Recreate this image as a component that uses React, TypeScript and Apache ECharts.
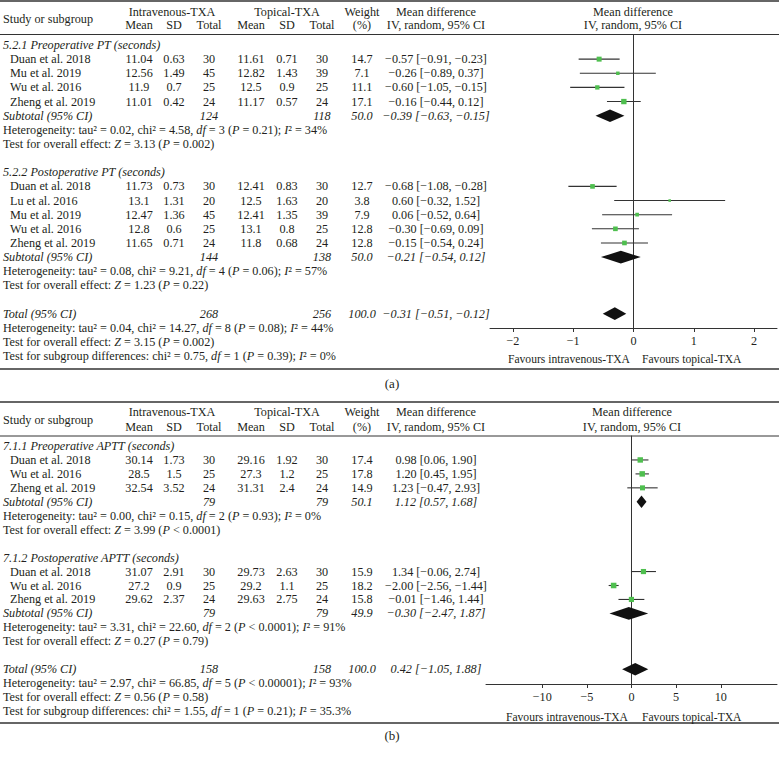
import React, { useEffect, useRef } from "react";
import * as echarts from "echarts";

type Study = [string, number, number, number, number, number, number, number, number, number, number];
type Sub = [number, number, number, number, number, number];

// ---------- Panel (a): PT ----------
const PT_PRE_TITLE = "5.2.1 Preoperative PT (seconds)";
const PT_PRE: Study[] = [
  ["Duan et al. 2018", 11.04, 0.63, 30, 11.61, 0.71, 30, 14.7, -0.57, -0.91, -0.23],
  ["Mu et al. 2019", 12.56, 1.49, 45, 12.82, 1.43, 39, 7.1, -0.26, -0.89, 0.37],
  ["Wu et al. 2016", 11.9, 0.7, 25, 12.5, 0.9, 25, 11.1, -0.6, -1.05, -0.15],
  ["Zheng et al. 2019", 11.01, 0.42, 24, 11.17, 0.57, 24, 17.1, -0.16, -0.44, 0.12],
];
const PT_PRE_SUB: Sub = [124, 118, 50.0, -0.39, -0.63, -0.15];
const PT_PRE_STATS = [
  "Heterogeneity: tau² = 0.02, chi² = 4.58, {i|df} = 3 ({i|P} = 0.21); {i|I}² = 34%",
  "Test for overall effect: {i|Z} = 3.13 ({i|P} = 0.002)",
];

const PT_POST_TITLE = "5.2.2 Postoperative PT (seconds)";
const PT_POST: Study[] = [
  ["Duan et al. 2018", 11.73, 0.73, 30, 12.41, 0.83, 30, 12.7, -0.68, -1.08, -0.28],
  ["Lu et al. 2016", 13.1, 1.31, 20, 12.5, 1.63, 20, 3.8, 0.6, -0.32, 1.52],
  ["Mu et al. 2019", 12.47, 1.36, 45, 12.41, 1.35, 39, 7.9, 0.06, -0.52, 0.64],
  ["Wu et al. 2016", 12.8, 0.6, 25, 13.1, 0.8, 25, 12.8, -0.3, -0.69, 0.09],
  ["Zheng et al. 2019", 11.65, 0.71, 24, 11.8, 0.68, 24, 12.8, -0.15, -0.54, 0.24],
];
const PT_POST_SUB: Sub = [144, 138, 50.0, -0.21, -0.54, 0.12];
const PT_POST_STATS = [
  "Heterogeneity: tau² = 0.08, chi² = 9.21, {i|df} = 4 ({i|P} = 0.06); {i|I}² = 57%",
  "Test for overall effect: {i|Z} = 1.23 ({i|P} = 0.22)",
];
const PT_TOTAL: Sub = [268, 256, 100.0, -0.31, -0.51, -0.12];
const PT_TOTAL_STATS = [
  "Heterogeneity: tau² = 0.04, chi² = 14.27, {i|df} = 8 ({i|P} = 0.08); {i|I}² = 44%",
  "Test for overall effect: {i|Z} = 3.15 ({i|P} = 0.002)",
  "Test for subgroup differences: chi² = 0.75, {i|df} = 1 ({i|P} = 0.39); {i|I}² = 0%",
];
const PT_TICKS = [-2, -1, 0, 1, 2];

// ---------- Panel (b): APTT ----------
const APTT_PRE_TITLE = "7.1.1 Preoperative APTT (seconds)";
const APTT_PRE: Study[] = [
  ["Duan et al. 2018", 30.14, 1.73, 30, 29.16, 1.92, 30, 17.4, 0.98, 0.06, 1.9],
  ["Wu et al. 2016", 28.5, 1.5, 25, 27.3, 1.2, 25, 17.8, 1.2, 0.45, 1.95],
  ["Zheng et al. 2019", 32.54, 3.52, 24, 31.31, 2.4, 24, 14.9, 1.23, -0.47, 2.93],
];
const APTT_PRE_SUB: Sub = [79, 79, 50.1, 1.12, 0.57, 1.68];
const APTT_PRE_STATS = [
  "Heterogeneity: tau² = 0.00, chi² = 0.15, {i|df} = 2 ({i|P} = 0.93); {i|I}² = 0%",
  "Test for overall effect: {i|Z} = 3.99 ({i|P} < 0.0001)",
];
const APTT_POST_TITLE = "7.1.2 Postoperative APTT (seconds)";
const APTT_POST: Study[] = [
  ["Duan et al. 2018", 31.07, 2.91, 30, 29.73, 2.63, 30, 15.9, 1.34, -0.06, 2.74],
  ["Wu et al. 2016", 27.2, 0.9, 25, 29.2, 1.1, 25, 18.2, -2.0, -2.56, -1.44],
  ["Zheng et al. 2019", 29.62, 2.37, 24, 29.63, 2.75, 24, 15.8, -0.01, -1.46, 1.44],
];
const APTT_POST_SUB: Sub = [79, 79, 49.9, -0.3, -2.47, 1.87];
const APTT_POST_STATS = [
  "Heterogeneity: tau² = 3.31, chi² = 22.60, {i|df} = 2 ({i|P} < 0.0001); {i|I}² = 91%",
  "Test for overall effect: {i|Z} = 0.27 ({i|P} = 0.79)",
];
const APTT_TOTAL: Sub = [158, 158, 100.0, 0.42, -1.05, 1.88];
const APTT_TOTAL_STATS = [
  "Heterogeneity: tau² = 2.97, chi² = 66.85, {i|df} = 5 ({i|P} < 0.00001); {i|I}² = 93%",
  "Test for overall effect: {i|Z} = 0.56 ({i|P} = 0.58)",
  "Test for subgroup differences: chi² = 1.55, {i|df} = 1 ({i|P} = 0.21); {i|I}² = 35.3%",
];
const APTT_TICKS = [-10, -5, 0, 5, 10];

// ---------- layout / style ----------
const FONT = '"Liberation Serif", "DejaVu Serif", serif';
const FS = 12.2;
const FS_SMALL = 11.6;
const INK = "#231f20";
const LINE = "#333333";
const GREEN = "#4fbf4f";
const COL = { mean1: 139, sd1: 174, n1: 209, mean2: 251, sd2: 287, n2: 322, w: 362, md: 436 };

const minus = (v: number, d: number) => (v < 0 ? "\u2212" : "") + Math.abs(v).toFixed(d);
const ci = (md: number, lo: number, hi: number) => `${minus(md, 2)} [${minus(lo, 2)}, ${minus(hi, 2)}]`;

function txt(x: number, y: number, text: string, align = "left", italic = false, size = FS): any {
  return {
    type: "text",
    x,
    y,
    silent: true,
    style: {
      text,
      fill: INK,
      fontFamily: FONT,
      fontSize: size,
      fontStyle: italic ? "italic" : "normal",
      textAlign: align,
      textVerticalAlign: "middle",
      verticalAlign: "middle",
      rich: { i: { fontStyle: "italic", fontFamily: FONT, fontSize: size, fill: INK } },
    },
  };
}

function hline(y: number, w: number): any {
  return { type: "line", silent: true, shape: { x1: 0, y1: y, x2: 779, y2: y }, style: { stroke: LINE, lineWidth: w } };
}

interface Group { title: string; studies: Study[]; sub: Sub; stats: string[] }
interface PanelCfg {
  groups: Group[];
  total: Sub;
  totalStats: string[];
  topLine: number;
  head1: number;
  head2: number;
  headLine: number;
  bottomLine: number;
  y0: number;
  step: number;
  plotCenter: number;
  favY: number;
  favRight: number;
  favLeft: number;
  label: string;
  labelY: number;
}

function buildPanel(p: PanelCfg) {
  const g: any[] = [];
  const data: number[][] = [];
  g.push(hline(p.topLine, 1.3), hline(p.headLine, 1), hline(p.bottomLine, 1.3));
  g.push(txt(3, (p.head1 + p.head2) / 2, "Study or subgroup"));
  g.push(txt(172, p.head1, "Intravenous-TXA", "center"));
  g.push(txt(287, p.head1, "Topical-TXA", "center"));
  g.push(txt(COL.w, p.head1, "Weight", "center"));
  g.push(txt(COL.md, p.head1, "Mean difference", "center"));
  g.push(txt(p.plotCenter, p.head1, "Mean difference", "center"));
  [["Mean", COL.mean1], ["SD", COL.sd1], ["Total", COL.n1], ["Mean", COL.mean2], ["SD", COL.sd2], ["Total", COL.n2], ["(%)", COL.w]].forEach(
    ([t, x]) => g.push(txt(x as number, p.head2, t as string, "center"))
  );
  g.push(txt(COL.md, p.head2, "IV, random, 95% CI", "center"));
  g.push(txt(p.plotCenter, p.head2, "IV, random, 95% CI", "center"));

  let r = 0;
  const Y = (row: number) => p.y0 + row * p.step;
  const subRow = (label: string, s: Sub, row: number) => {
    g.push(txt(3, Y(row), label, "left", true));
    g.push(txt(COL.n1, Y(row), String(s[0]), "center", true));
    g.push(txt(COL.n2, Y(row), String(s[1]), "center", true));
    g.push(txt(COL.w, Y(row), s[2].toFixed(1), "center", true));
    g.push(txt(COL.md, Y(row), ci(s[3], s[4], s[5]), "center", true));
    data.push([s[3], s[4], s[5], row, s[2], 1]);
  };
  p.groups.forEach((grp) => {
    g.push(txt(3, Y(r), grp.title, "left", true));
    r++;
    grp.studies.forEach((s) => {
      const y = Y(r);
      g.push(txt(10, y, s[0]));
      g.push(txt(COL.mean1, y, String(s[1]), "center"));
      g.push(txt(COL.sd1, y, String(s[2]), "center"));
      g.push(txt(COL.n1, y, String(s[3]), "center"));
      g.push(txt(COL.mean2, y, String(s[4]), "center"));
      g.push(txt(COL.sd2, y, String(s[5]), "center"));
      g.push(txt(COL.n2, y, String(s[6]), "center"));
      g.push(txt(COL.w, y, s[7].toFixed(1), "center"));
      g.push(txt(COL.md, y, ci(s[8], s[9], s[10]), "center"));
      data.push([s[8], s[9], s[10], r, s[7], 0]);
      r++;
    });
    subRow("Subtotal (95% CI)", grp.sub, r);
    r++;
    grp.stats.forEach((s) => {
      g.push(txt(3, Y(r), s));
      r++;
    });
    r++;
  });
  subRow("Total (95% CI)", p.total, r);
  r++;
  p.totalStats.forEach((s) => {
    g.push(txt(3, Y(r), s));
    r++;
  });
  g.push(txt(p.favRight, p.favY, "Favours intravenous-TXA", "right", false, FS_SMALL));
  g.push(txt(p.favLeft, p.favY, "Favours topical-TXA", "left", false, FS_SMALL));
  g.push(txt(392, p.labelY, p.label, "center", false, 13));
  return { g, data };
}

const PANEL_A: PanelCfg = {
  groups: [
    { title: PT_PRE_TITLE, studies: PT_PRE, sub: PT_PRE_SUB, stats: PT_PRE_STATS },
    { title: PT_POST_TITLE, studies: PT_POST, sub: PT_POST_SUB, stats: PT_POST_STATS },
  ],
  total: PT_TOTAL,
  totalStats: PT_TOTAL_STATS,
  topLine: 1,
  head1: 12,
  head2: 25,
  headLine: 34.5,
  bottomLine: 369,
  y0: 45,
  step: 14.14,
  plotCenter: 633,
  favY: 359,
  favRight: 630,
  favLeft: 642,
  label: "(a)",
  labelY: 383,
};
const PANEL_B: PanelCfg = {
  groups: [
    { title: APTT_PRE_TITLE, studies: APTT_PRE, sub: APTT_PRE_SUB, stats: APTT_PRE_STATS },
    { title: APTT_POST_TITLE, studies: APTT_POST, sub: APTT_POST_SUB, stats: APTT_POST_STATS },
  ],
  total: APTT_TOTAL,
  totalStats: APTT_TOTAL_STATS,
  topLine: 402,
  head1: 412,
  head2: 427,
  headLine: 436,
  bottomLine: 723,
  y0: 446,
  step: 13.95,
  plotCenter: 632,
  favY: 717,
  favRight: 628,
  favLeft: 642,
  label: "(b)",
  labelY: 735,
};

const GRID_A = { left: 490, top: 34.5, width: 287, height: 293.5 };
const GRID_B = { left: 486, top: 436, width: 291, height: 248 };

function renderForest(_params: any, api: any) {
  const md = api.value(0);
  const lo = api.value(1);
  const hi = api.value(2);
  const row = api.value(3);
  const w = api.value(4);
  const kind = api.value(5);
  const c = api.coord([md, row]);
  const l = api.coord([lo, row]);
  const h = api.coord([hi, row]);
  if (kind === 0) {
    const s = 1.3 * Math.sqrt(w);
    return {
      type: "group",
      children: [
        { type: "line", shape: { x1: l[0], y1: c[1], x2: h[0], y2: c[1] }, style: { stroke: LINE, lineWidth: 1.1 } },
        { type: "rect", shape: { x: c[0] - s / 2, y: c[1] - s / 2, width: s, height: s }, style: { fill: GREEN } },
      ],
    };
  }
  const hh = 6.3;
  return {
    type: "polygon",
    shape: { points: [[l[0], c[1]], [c[0], c[1] - hh], [h[0], c[1]], [c[0], c[1] + hh]] },
    style: { fill: "#111" },
  };
}

function xAxisCfg(idx: number, ext: number, ticks: number[]) {
  return {
    gridIndex: idx,
    type: "value",
    min: -ext,
    max: ext,
    splitLine: { show: false },
    axisLine: { show: true, onZero: false, lineStyle: { color: LINE, width: 1 } },
    axisTick: { show: true, customValues: ticks, length: 4, lineStyle: { color: LINE } },
    axisLabel: {
      customValues: ticks,
      margin: 7,
      color: INK,
      fontFamily: FONT,
      fontSize: FS,
      formatter: (v: number) => minus(v, 0),
    },
  };
}
function yAxisCfg(idx: number, grid: any, p: PanelCfg) {
  return {
    gridIndex: idx,
    type: "value",
    inverse: true,
    min: (grid.top - p.y0) / p.step,
    max: (grid.top + grid.height - p.y0) / p.step,
    splitLine: { show: false },
    axisTick: { show: false },
    axisLabel: { show: false },
    axisLine: { show: true, onZero: true, lineStyle: { color: LINE, width: 1 } },
  };
}

export default function App() {
  const ref = useRef<HTMLDivElement>(null);
  useEffect(() => {
    document.body.style.margin = "0";
    document.body.style.background = "#fff";
    if (!ref.current) return;
    const chart = echarts.init(ref.current, undefined, { renderer: "svg" });
    const a = buildPanel(PANEL_A);
    const b = buildPanel(PANEL_B);
    chart.setOption({
      animation: false,
      backgroundColor: "#ffffff",
      grid: [GRID_A, GRID_B],
      xAxis: [xAxisCfg(0, 2.38, PT_TICKS), xAxisCfg(1, 16.3, APTT_TICKS)],
      yAxis: [yAxisCfg(0, GRID_A, PANEL_A), yAxisCfg(1, GRID_B, PANEL_B)],
      series: [
        { type: "custom", xAxisIndex: 0, yAxisIndex: 0, renderItem: renderForest, data: a.data, encode: { x: [0, 1, 2], y: 3 }, silent: true },
        { type: "custom", xAxisIndex: 1, yAxisIndex: 1, renderItem: renderForest, data: b.data, encode: { x: [0, 1, 2], y: 3 }, silent: true },
      ],
      graphic: { elements: [...a.g, ...b.g] },
    });
    return () => chart.dispose();
  }, []);
  return <div ref={ref} style={{ width: 779, height: 759 }} />;
}
